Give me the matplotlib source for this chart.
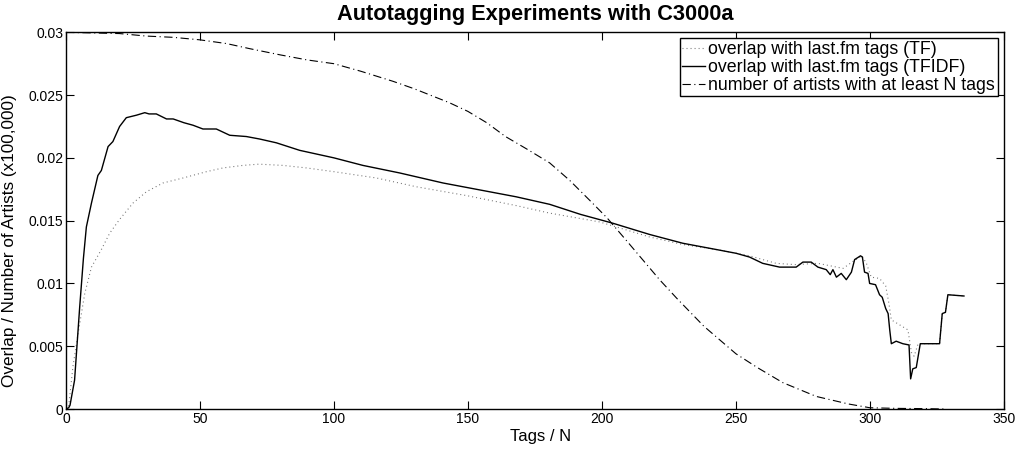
import matplotlib
matplotlib.use("Agg")
import matplotlib.pyplot as plt

plt.rcParams['font.family'] = ['Liberation Sans', 'DejaVu Sans']
plt.rcParams['lines.scale_dashes'] = False

# --- data ---
tf_x = [0, 1, 2.6, 4.5, 7, 9.5, 13.2, 16.3, 20, 25, 30, 36.2, 43.7, 52.4, 58.6, 66, 72, 81, 89.7,
        100, 115.8, 130.7, 149.4, 168, 180.5, 199.1, 205.4, 217.8, 230.2, 242.7, 255.1, 265,
        272, 280.6, 290, 294, 297, 298.7, 300.5, 303.6, 305.9, 307.1, 308, 311.1, 314.2,
        315.5, 316.5, 318, 326, 327, 328.2, 329.1, 335.1]
tf_y = [0.0, 0.0002, 0.0034, 0.0060, 0.0092, 0.0113, 0.0127, 0.0140, 0.0151, 0.0164, 0.0173,
        0.0180, 0.0184, 0.0189, 0.0192, 0.0194, 0.0195, 0.0194, 0.0192, 0.0189, 0.0184,
        0.0177, 0.0170, 0.0162, 0.0156, 0.0149, 0.0145, 0.0137, 0.0131, 0.0127, 0.0122,
        0.0116, 0.0115, 0.0116, 0.0112, 0.0118, 0.0122, 0.0116, 0.0105, 0.0104, 0.0098,
        0.0084, 0.0071, 0.0067, 0.0063, 0.0045, 0.0042, 0.0052, 0.0052, 0.0076, 0.0077,
        0.0091, 0.0090]

tfidf_x = [0, 1, 1.5, 3.2, 5.1, 6.5, 7.6, 9.5, 11.9, 13.2, 15.7, 17.5, 20, 22.5, 26.3, 29.4, 31,
           33.7, 37.5, 40, 44, 47.4, 51.1, 56.1, 61.1, 67.3, 72.3, 78.5, 87.2, 100, 110.8,
           124.5, 140.7, 155.6, 168, 180.5, 192, 204, 217.8, 230.2, 242.7, 250.1, 255.1, 260,
           266.3, 272.5, 275, 278.1, 280.6, 283.7, 285.2, 286.2, 287.5, 289.3, 291.2, 293.1,
           294.3, 296.5, 297.2, 298, 299.3, 299.9, 302.1, 303.6, 304.6, 305.9, 306.8, 307.4,
           308, 309.8, 312.3, 314.6, 315.2, 316, 317.3, 318.8, 326, 327, 328.2, 329.1, 335.1]
tfidf_y = [0.0, 0.0001, 0.0003, 0.0023, 0.0081, 0.0120, 0.0145, 0.0164, 0.0186, 0.0190, 0.0209,
           0.0213, 0.0225, 0.0232, 0.0234, 0.0236, 0.0235, 0.0235, 0.0231, 0.0231, 0.0228,
           0.0226, 0.0223, 0.0223, 0.0218, 0.0217, 0.0215, 0.0212, 0.0206, 0.0200, 0.0194,
           0.0188, 0.0180, 0.0174, 0.0169, 0.0163, 0.0155, 0.0148, 0.0139, 0.0132, 0.0127,
           0.0124, 0.0121, 0.0116, 0.0113, 0.0113, 0.0117, 0.0117, 0.0113, 0.0111, 0.0107,
           0.0111, 0.0105, 0.0108, 0.0103, 0.0109, 0.0119, 0.0122, 0.0121, 0.0109, 0.0108,
           0.0100, 0.0099, 0.0091, 0.0089, 0.0080, 0.0076, 0.0063, 0.0052, 0.0054, 0.0052,
           0.0051, 0.0024, 0.0032, 0.0033, 0.0052, 0.0052, 0.0076, 0.0077, 0.0091, 0.0090]

art_x = [0, 10, 20, 30, 40, 50, 60, 68.5, 80, 90, 100, 110, 122, 130, 143, 150, 157, 164, 172,
         180.5, 188, 196, 202, 210, 221.5, 228, 238, 250, 258, 267.5, 280, 292, 300, 310, 320, 328]
art_y = [0.0300, 0.02995, 0.0299, 0.0297, 0.0296, 0.0294, 0.0291, 0.0287, 0.0282, 0.0278,
         0.0275, 0.0269, 0.0261, 0.0255, 0.0244, 0.0237, 0.0228, 0.0217, 0.0207, 0.0196,
         0.0182, 0.0165, 0.0152, 0.0132, 0.0103, 0.0088, 0.0066, 0.0044, 0.0033, 0.0021,
         0.0010, 0.0004, 0.0001, 0.00005, 0.00003, 0.0]

labels = ['overlap with last.fm tags (TF)', 'overlap with last.fm tags (TFIDF)',
          'number of artists with at least N tags']
x_ticks = [0, 50, 100, 150, 200, 250, 300, 350]
y_ticks = [0, 0.005, 0.01, 0.015, 0.02, 0.025, 0.03]
y_ticklabels = ['0', '0.005', '0.01', '0.015', '0.02', '0.025', '0.03']

fig = plt.figure(figsize=(10.17, 4.5), dpi=100)
ax = fig.add_axes([0.0649, 0.0911, 0.9222, 0.8371])

ax.plot(tf_x, tf_y, color='#707070', lw=0.8, linestyle=(0, (0.7, 2.2)), label=labels[0])
ax.plot(tfidf_x, tfidf_y, color='black', lw=1.0, linestyle='-', label=labels[1])
ax.plot(art_x, art_y, color='black', lw=0.8, linestyle=(0, (6, 2.5, 0.8, 2.5)), label=labels[2])

ax.set_xlim(0, 350)
ax.set_ylim(0, 0.03)
ax.set_xticks(x_ticks)
ax.set_xticklabels([str(t) for t in x_ticks])
ax.set_yticks(y_ticks)
ax.set_yticklabels(y_ticklabels)
ax.tick_params(direction='in', top=True, right=True, length=6, width=0.8, labelsize=10, pad=2)
for s in ax.spines.values():
    s.set_linewidth(1.0)

ax.set_title('Autotagging Experiments with C3000a', fontsize=15.7, fontweight='bold', pad=9)
ax.set_xlabel('Tags / N', fontsize=12)
ax.set_ylabel('Overlap / Number of Artists (x100,000)', fontsize=12.3)
ax.xaxis.set_label_coords(0.506, -0.054, transform=ax.transAxes)
ax.yaxis.set_label_coords(-0.052, 0.446, transform=ax.transAxes)

leg = ax.legend(loc='upper right', fontsize=12.8, frameon=True, fancybox=False, framealpha=1,
                edgecolor='black', borderaxespad=0.34, handlelength=1.3, handletextpad=0.17,
                labelspacing=0.05, borderpad=0.15)
leg.get_frame().set_linewidth(1.0)

fig.savefig('out.png', dpi=100)
